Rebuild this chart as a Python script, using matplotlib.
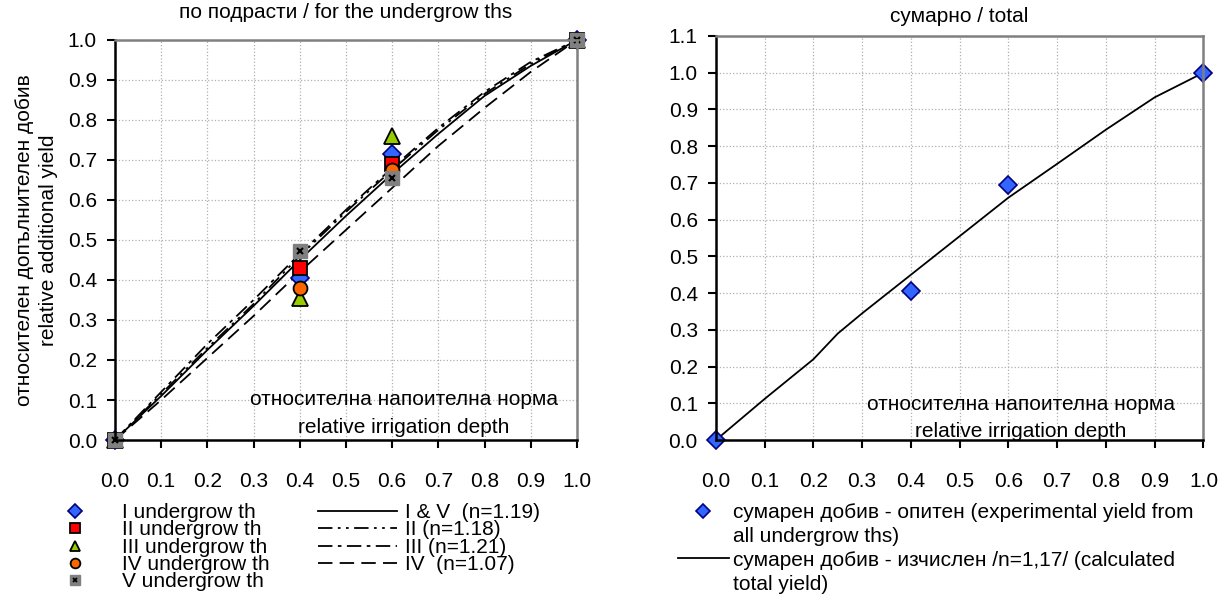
import matplotlib
matplotlib.use('Agg')
import matplotlib.pyplot as plt
from matplotlib.lines import Line2D

plt.rcParams['font.family'] = ['Liberation Sans', 'DejaVu Sans']
plt.rcParams['font.size'] = 15

# experimental points per undergrowth
x_exp = [0.0, 0.4, 0.6, 1.0]
y_ug1 = [0.0, 0.405, 0.715, 1.0]
y_ug2 = [0.0, 0.43, 0.69, 1.0]
y_ug3 = [0.0, 0.355, 0.76, 1.0]
y_ug4 = [0.0, 0.38, 0.675, 1.0]
y_ug5 = [0.0, 0.473, 0.655, 1.0]

# calculated curves
x_calc = [0.0, 0.1, 0.2, 0.3, 0.4, 0.5, 0.6, 0.7, 0.8, 0.9, 1.0]
y_calc_15 = [0.0, 0.11, 0.225, 0.335, 0.45, 0.56, 0.665, 0.765, 0.86, 0.935, 1.0]
y_calc_2 = [0.0, 0.115, 0.23, 0.34, 0.46, 0.57, 0.675, 0.775, 0.865, 0.94, 1.0]
y_calc_3 = [0.0, 0.12, 0.24, 0.35, 0.465, 0.575, 0.68, 0.78, 0.87, 0.945, 1.0]
y_calc_4 = [0.0, 0.1, 0.205, 0.31, 0.42, 0.525, 0.63, 0.735, 0.83, 0.92, 1.0]

# total yield
x_tot = [0.0, 0.4, 0.6, 1.0]
y_tot = [0.0, 0.405, 0.693, 1.0]
x_tot_calc = [0.0, 0.1, 0.2, 0.25, 0.3, 0.4, 0.5, 0.6, 0.7, 0.8, 0.9, 1.0]
y_tot_calc = [0.0, 0.112, 0.22, 0.29, 0.345, 0.45, 0.555, 0.66, 0.752, 0.845, 0.933, 1.0]

ticks_x = [i / 10 for i in range(11)]


def style_axes(ax, ymax):
    ax.set_xlim(0, 1.0)
    ax.set_ylim(0, ymax)
    ax.set_xticks(ticks_x)
    ax.set_xticklabels([f'{t:.1f}' for t in ticks_x])
    yt = [i / 10 for i in range(int(round(ymax * 10)) + 1)]
    ax.set_yticks(yt)
    ax.set_yticklabels([f'{t:.1f}' for t in yt])
    ax.grid(True, color='#b0b0b0', linestyle=':', linewidth=0.9)
    ax.set_axisbelow(True)
    for s in ['left', 'bottom']:
        ax.spines[s].set_color('black')
        ax.spines[s].set_linewidth(1.8)
    for s in ['top', 'right']:
        ax.spines[s].set_color('#808080')
        ax.spines[s].set_linewidth(1.8)
    ax.tick_params(axis='x', direction='out', length=6, width=1.5, pad=17, labelsize=15)
    ax.tick_params(axis='y', direction='out', length=6, width=1.5, pad=7, labelsize=15)


fig = plt.figure(figsize=(12.28, 5.99), dpi=100)
ax1 = fig.add_axes([0.0936, 0.2654, 0.3762, 0.668])
ax2 = fig.add_axes([0.583, 0.2654, 0.397, 0.6745])

# left chart
style_axes(ax1, 1.0)
l1, = ax1.plot(x_calc, y_calc_15, color='black', lw=1.3, ls='-')
l2, = ax1.plot(x_calc, y_calc_2, color='black', lw=1.3, ls=(0, (8, 3, 1.5, 3, 1.5, 3)))
l3, = ax1.plot(x_calc, y_calc_3, color='black', lw=1.3, ls=(0, (8, 3, 2, 3)))
l4, = ax1.plot(x_calc, y_calc_4, color='black', lw=1.3, ls=(0, (8, 4)))

m3, = ax1.plot(x_exp, y_ug3, ls='none', marker='^', ms=11, mfc='#99cc00', mec='black', mew=1.3, clip_on=False)
m1, = ax1.plot(x_exp, y_ug1, ls='none', marker='D', ms=9, mfc='#3366ff', mec='#000080', mew=1.2, clip_on=False)
m2, = ax1.plot(x_exp, y_ug2, ls='none', marker='s', ms=10, mfc='#ff0000', mec='black', mew=1.3, clip_on=False)
m4, = ax1.plot(x_exp, y_ug4, ls='none', marker='o', ms=10, mfc='#ff6600', mec='black', mew=1.3, clip_on=False)
m5, = ax1.plot(x_exp, y_ug5, ls='none', marker='s', ms=10, mfc='#808080', mec='#808080', clip_on=False)
m5b, = ax1.plot(x_exp, y_ug5, ls='none', marker='x', ms=4, mec='black', mew=1.5, clip_on=False)

ax1.set_title('по подрасти / for the undergrow ths', fontsize=15, pad=16)
ax1.set_ylabel('относителен допълнителен добив\nrelative additional yield', fontsize=15,
               labelpad=7, linespacing=1.3)
ax1.text(0.626, 0.1025, 'относителна напоителна норма', ha='center', va='center', fontsize=15)
ax1.text(0.626, 0.0325, 'relative irrigation depth', ha='center', va='center', fontsize=15)

# legend handles for markers are smaller than the plotted markers
h1 = Line2D([], [], ls='none', marker='D', ms=7, mfc='#3366ff', mec='#000080', mew=1.2)
h2 = Line2D([], [], ls='none', marker='s', ms=7, mfc='#ff0000', mec='black', mew=1.3)
h3 = Line2D([], [], ls='none', marker='^', ms=7, mfc='#99cc00', mec='black', mew=1.3)
h4 = Line2D([], [], ls='none', marker='o', ms=7, mfc='#ff6600', mec='black', mew=1.3)
h5 = Line2D([], [], ls='none', marker='s', ms=7.5, mfc='#808080', mec='#808080')
h5b = Line2D([], [], ls='none', marker='x', ms=3, mec='black', mew=1.3)

fig.legend([h1, h2, h3, h4, (h5, h5b)],
           ['I undergrow th', 'II undergrow th', 'III undergrow th',
            'IV undergrow th', 'V undergrow th'],
           loc='upper left', bbox_to_anchor=(0.0484, 0.160), frameon=False,
           fontsize=15, labelspacing=-0.08, handlelength=1.5,
           handletextpad=1.5, borderaxespad=0, borderpad=0)
fig.legend([l1, l2, l3, l4],
           ['I & V  (n=1.19)', 'II (n=1.18)', 'III (n=1.21)', 'IV  (n=1.07)'],
           loc='upper left', bbox_to_anchor=(0.259, 0.160), frameon=False,
           fontsize=15, labelspacing=-0.08, handlelength=3.8,
           handletextpad=0.35, borderaxespad=0, borderpad=0)

# right chart
style_axes(ax2, 1.1)
c1, = ax2.plot(x_tot_calc, y_tot_calc, color='black', lw=1.3)
e1, = ax2.plot(x_tot, y_tot, ls='none', marker='D', ms=9, mfc='#3366ff', mec='#000080', mew=1.2, clip_on=False)
ax2.set_title('сумарно / total', fontsize=15, pad=10)
ax2.text(0.625, 0.098, 'относителна напоителна норма', ha='center', va='center', fontsize=15)
ax2.text(0.625, 0.022, 'relative irrigation depth', ha='center', va='center', fontsize=15)

he = Line2D([], [], ls='none', marker='D', ms=7, mfc='#3366ff', mec='#000080', mew=1.2)
blank = Line2D([], [], ls='none', marker='none')
fig.legend([he, blank, c1, blank],
           ['сумарен добив - опитен (experimental yield from',
            'all undergrow ths)',
            'сумарен добив - изчислен /n=1,17/ (calculated',
            'total yield)'],
           loc='upper left', bbox_to_anchor=(0.552, 0.160), frameon=False,
           fontsize=15, labelspacing=0.23, handlelength=2.45,
           handletextpad=0.2, borderaxespad=0, borderpad=0)

fig.savefig('out.png', dpi=100)
